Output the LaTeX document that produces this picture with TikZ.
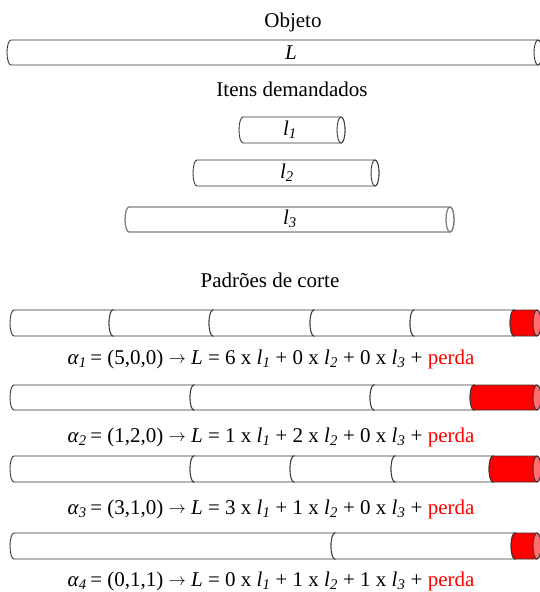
\documentclass[tikz,border=0pt]{standalone}
\usepackage{fontspec}
\setmainfont{Liberation Serif}
\usepackage{xcolor}

% italic symbol with italic subscript
\newcommand{\vsub}[2]{\textit{#1}\textsubscript{\textit{#2}}}
% arrow of the pattern captions
\newcommand{\toarrow}{\raisebox{1pt}{\fontsize{19}{19}\selectfont$\rightarrow$}}

% horizontal tube: left edge, left edge of the right end, top, bottom, body fill, end fill
\newcommand{\tube}[6]{%
  \filldraw[tubeline, fill=#5] (#1+4,#3) -- (#2+4,#3)
    arc[start angle=-90, end angle=90, x radius=4, y radius={(#4-#3)/2}]
    -- (#1+4,#4)
    arc[start angle=90, end angle=270, x radius=4, y radius={(#4-#3)/2}] -- cycle;
  \filldraw[tubeline, fill=#6] (#2+4,{(#3+#4)/2}) ellipse[x radius=4, y radius={(#4-#3)/2}];
}

\begin{document}
\begin{tikzpicture}[x=1pt, y=-1pt,
    tubeline/.style={draw=black!80, line width=0.9pt},
    txt/.style={font=\fontsize{21}{25}\selectfont, inner sep=0pt}]

        % Colours
        \definecolor{lossred}{RGB}{255, 0, 0}
        \definecolor{losspink}{RGB}{255, 110, 110}

        \useasboundingbox (0,0) rectangle (539,592);

        % Object
        \node[txt] (objeto) at (293, 22) {Objeto};
        \tube{7}{534}{40}{65}{white}{white}
        \node[txt] (L) at (291, 53) {\textit{L}};

        % Demanded items
        \node[txt] (itens) at (292, 89) {Itens demandados};
        \tube{239}{337}{117}{143}{white}{white}
        \node[txt] (l1) at (290, 130) {\vsub{l}{1}};
        \tube{193}{371}{160}{186}{white}{white}
        \node[txt] (l2) at (287, 173) {\vsub{l}{2}};
        \begin{scope}[tubeline/.style={draw=black!50, line width=1.3pt}]
          \tube{125}{446}{207}{232}{white}{white}
        \end{scope}
        \node[txt] (l3) at (290, 219) {\vsub{l}{3}};

        % Cutting patterns
        \node[txt] (padroes) at (270, 280) {Padrões de corte};

        \foreach \a/\b in {10/109, 109/209, 209/310, 310/410, 410/510}
          {\tube{\a}{\b}{310}{336}{white}{white}}
        \tube{510}{533}{310}{336}{lossred}{losspink}
        \node[txt] (alpha1) at (271, 359)
          {\vsub{α}{1}\,= (5,0,0) \toarrow{} \textit{L} = 6 x \vsub{l}{1} + 0 x \vsub{l}{2} + 0 x \vsub{l}{3} + \textcolor{lossred}{perda}};

        \foreach \a/\b in {10/190, 190/370, 370/470}
          {\tube{\a}{\b}{385}{410}{white}{white}}
        \tube{470}{533}{385}{410}{lossred}{losspink}
        \node[txt] (alpha2) at (271, 437)
          {\vsub{α}{2}\,= (1,2,0) \toarrow{} \textit{L} = 1 x \vsub{l}{1} + 2 x \vsub{l}{2} + 0 x \vsub{l}{3} + \textcolor{lossred}{perda}};

        \foreach \a/\b in {10/190, 190/290, 290/391, 391/489}
          {\tube{\a}{\b}{456}{482}{white}{white}}
        \tube{489}{533}{456}{482}{lossred}{losspink}
        \node[txt] (alpha3) at (271, 509)
          {\vsub{α}{3}\,= (3,1,0) \toarrow{} \textit{L} = 3 x \vsub{l}{1} + 1 x \vsub{l}{2} + 0 x \vsub{l}{3} + \textcolor{lossred}{perda}};

        \foreach \a/\b in {10/331, 331/511}
          {\tube{\a}{\b}{533}{559}{white}{white}}
        \tube{511}{533}{533}{559}{lossred}{losspink}
        \node[txt] (alpha4) at (271, 581)
          {\vsub{α}{4}\,= (0,1,1) \toarrow{} \textit{L} = 0 x \vsub{l}{1} + 1 x \vsub{l}{2} + 1 x \vsub{l}{3} + \textcolor{lossred}{perda}};

\end{tikzpicture}
\end{document}
